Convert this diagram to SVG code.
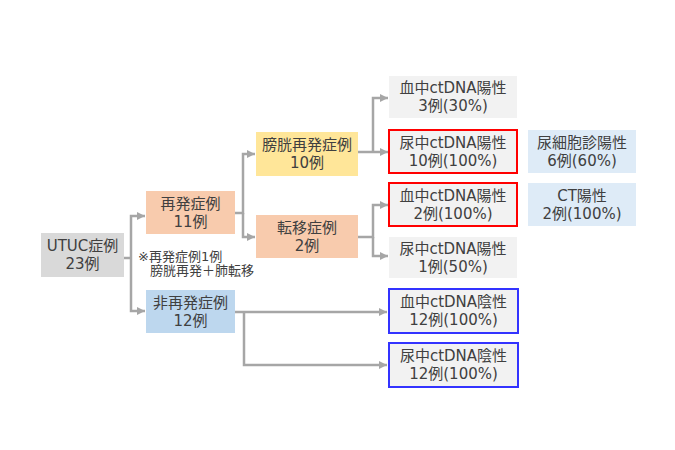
<svg xmlns="http://www.w3.org/2000/svg" width="675" height="450" viewBox="0 0 675 450">
<style>
text{font-family:"DejaVu Sans","Noto Sans CJK JP",sans-serif;font-size:15px;fill:#404040;text-anchor:middle;dominant-baseline:central}
.note{font-size:13px;text-anchor:start}
.c{fill:none;stroke:#a6a6a6;stroke-width:2.5}
.g{fill:#d9d9d9}.p{fill:#f8cbad}.y{fill:#ffe699}.b{fill:#bdd7ee}.l{fill:#f2f2f2}.lb{fill:#deebf7}
.r{fill:#f2f2f2;stroke:#ff0000;stroke-width:2}
.v{fill:#f2f2f2;stroke:#3333ff;stroke-width:2}
</style>
<defs>
<marker id="ah" viewBox="0 0 10 10" refX="10" refY="5" markerWidth="3.4" markerHeight="3.4" orient="auto" markerUnits="strokeWidth">
<path d="M0,0L10,5L0,10z" fill="#a6a6a6"/>
</marker>
</defs>
<rect width="675" height="450" fill="#ffffff"/>
<g id="connectors">
<path class="c" d="M124,258H131M131,258V216H145" marker-end="url(#ah)"/>
<path class="c" d="M131,258V311H145" marker-end="url(#ah)"/>
<path class="c" d="M235,213H243V154H255" marker-end="url(#ah)"/>
<path class="c" d="M243,213V237H255" marker-end="url(#ah)"/>
<path class="c" d="M358,152H388" marker-end="url(#ah)"/>
<path class="c" d="M373,152V98H388" marker-end="url(#ah)"/>
<path class="c" d="M358,237H373V205H388" marker-end="url(#ah)"/>
<path class="c" d="M373,237V256H388" marker-end="url(#ah)"/>
<path class="c" d="M235,312H387" marker-end="url(#ah)"/>
<path class="c" d="M244,312V365H387" marker-end="url(#ah)"/>
</g>
<g id="utuc"><rect class="g" x="41" y="233" width="83" height="44"/><text x="82.5" y="246">UTUC症例</text><text x="82.5" y="264">23例</text></g>
<g id="saihatsu"><rect class="p" x="146" y="191" width="89" height="43"/><text x="190.5" y="203.5">再発症例</text><text x="190.5" y="221.5">11例</text></g>
<g id="note"><text class="note" x="138" y="256">※再発症例1例</text><text class="note" x="150" y="270">膀胱再発＋肺転移</text></g>
<g id="hisaihatsu"><rect class="b" x="146" y="290" width="89" height="43"/><text x="190.5" y="302.5">非再発症例</text><text x="190.5" y="320.5">12例</text></g>
<g id="bokou"><rect class="y" x="256" y="132" width="102" height="44"/><text x="307" y="145">膀胱再発症例</text><text x="307" y="163">10例</text></g>
<g id="teni"><rect class="p" x="256" y="215" width="102" height="43"/><text x="307" y="227.5">転移症例</text><text x="307" y="245.5">2例</text></g>
<g id="n1"><rect class="l" x="389" y="76" width="128" height="42"/><text x="453" y="88">血中ctDNA陽性</text><text x="453" y="106">3例(30%)</text></g>
<g id="n2"><rect class="r" x="389" y="130" width="128" height="43"/><text x="453" y="142.5">尿中ctDNA陽性</text><text x="453" y="160.5">10例(100%)</text></g>
<g id="n3"><rect class="r" x="389" y="183" width="128" height="43"/><text x="453" y="195.5">血中ctDNA陽性</text><text x="453" y="213.5">2例(100%)</text></g>
<g id="n4"><rect class="l" x="389" y="237" width="128" height="41"/><text x="453" y="248.5">尿中ctDNA陽性</text><text x="453" y="266.5">1例(50%)</text></g>
<g id="n5"><rect class="v" x="389" y="289" width="129" height="44"/><text x="453.5" y="302">血中ctDNA陰性</text><text x="453.5" y="320">12例(100%)</text></g>
<g id="n6"><rect class="v" x="389" y="343" width="129" height="44"/><text x="453.5" y="356">尿中ctDNA陰性</text><text x="453.5" y="374">12例(100%)</text></g>
<g id="n7"><rect class="lb" x="528" y="130" width="108" height="43"/><text x="582" y="142.5">尿細胞診陽性</text><text x="582" y="160.5">6例(60%)</text></g>
<g id="n8"><rect class="lb" x="528" y="183" width="108" height="43"/><text x="582" y="195.5">CT陽性</text><text x="582" y="213.5">2例(100%)</text></g>
</svg>
